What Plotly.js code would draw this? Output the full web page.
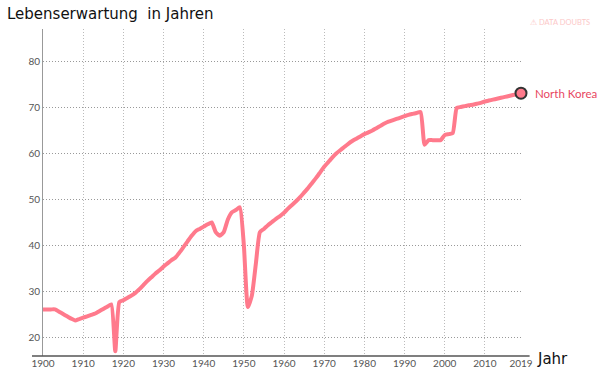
<!DOCTYPE html>
<html><head><meta charset="utf-8">
<script src="https://cdn.plot.ly/plotly-3.0.1.min.js"></script>
<style>body{margin:0;background:#fff}#c{width:600px;height:374px}</style>
</head><body><div id="c"></div>
<script>
const years = [];
for (let y = 1900; y <= 2019; y++) years.push(y);
const lifeExp = [
26.0,26.0,26.0,26.0,25.5,25.0,24.5,24.0,23.6,23.9,
24.2,24.5,24.8,25.1,25.6,26.1,26.6,27.1,16.9,27.6,
28.0,28.5,29.0,29.6,30.4,31.3,32.2,33.0,33.8,34.5,
35.3,36.0,36.7,37.3,38.4,39.6,40.8,42.0,43.0,43.5,
44.0,44.5,44.9,42.8,42.0,42.8,45.5,47.1,47.6,48.2,
40.0,26.5,29.0,36.0,42.8,43.5,44.3,45.0,45.7,46.3,
47.0,47.9,48.7,49.5,50.4,51.4,52.4,53.5,54.6,55.8,
57.0,58.0,59.0,59.9,60.6,61.3,62.0,62.6,63.1,63.6,
64.1,64.5,64.9,65.4,65.9,66.4,66.8,67.1,67.4,67.7,
68.0,68.3,68.5,68.7,68.9,61.8,62.8,62.8,62.8,62.8,
63.9,64.1,64.3,69.8,70.0,70.2,70.4,70.5,70.7,70.9,
71.2,71.4,71.6,71.8,72.0,72.2,72.4,72.6,72.8,73.0
];
const countryName = "North Korea";
const xTicks = [1900,1910,1920,1930,1940,1950,1960,1970,1980,1990,2000,2010,2019];
const yTicks = [20,30,40,50,60,70,80];

const lineColor = "#ff7a8c";
const traces = [
  {x: years, y: lifeExp, type: "scatter", mode: "lines",
   line: {color: lineColor, width: 4, shape: "spline", smoothing: 0.5}, hoverinfo: "skip"},
  {x: [years[years.length-1]], y: [lifeExp[lifeExp.length-1]], type: "scatter", mode: "markers",
   marker: {size: 11, color: lineColor, line: {color: "#333", width: 2}},
   cliponaxis: false, hoverinfo: "skip"}
];
const layout = {
  width: 600, height: 374,
  margin: {l: 43, r: 79, t: 29, b: 18},
  paper_bgcolor: "#fff", plot_bgcolor: "#fff",
  showlegend: false,
  font: {family: "Lato, sans-serif", size: 10, color: "#555"},
  xaxis: {range: [1900, 2019], tickvals: xTicks, ticktext: xTicks.map(String),
    showgrid: true, gridcolor: "#bbb", griddash: "1px,2px", gridwidth: 1,
    zeroline: false, showline: false, ticks: "", tickfont: {size: 10, color: "#555"}},
  yaxis: {range: [15.87, 86.96], tickvals: yTicks, ticktext: yTicks.map(String),
    showgrid: true, gridcolor: "#999", griddash: "1px,2px", gridwidth: 1,
    zeroline: false, showline: true, linecolor: "#999", linewidth: 1,
    ticks: "", tickfont: {size: 10, color: "#555"}},
  shapes: [
    {type: "line", xref: "paper", yref: "paper", x0: -0.023, x1: 1.018, y0: 0, y1: 0,
     line: {color: "#555", width: 1.5}}
  ],
  annotations: [
    {text: "Lebenserwartung  in Jahren", xref: "paper", yref: "paper", x: -0.08, y: 1.045,
     xanchor: "left", yanchor: "middle", showarrow: false,
     font: {family: "DejaVu Sans", size: 15, color: "#111"}},
    {text: countryName, xref: "paper", yref: "y", x: 1.025, y: lifeExp[lifeExp.length-1],
     xanchor: "left", yanchor: "middle", showarrow: false,
     font: {family: "Lato, sans-serif", size: 11.5, color: "#e8475f"}},
    {text: "Jahr", xref: "paper", yref: "paper", x: 1.03, y: -0.01,
     xanchor: "left", yanchor: "middle", showarrow: false,
     font: {family: "DejaVu Sans", size: 15, color: "#111"}},
    {text: "⚠ DATA DOUBTS", xref: "paper", yref: "paper", x: 1.015, y: 1.02,
     xanchor: "left", yanchor: "middle", showarrow: false,
     font: {family: "Lato, sans-serif", size: 7.5, color: "#fcc8c8"}}
  ]
};
Plotly.newPlot("c", traces, layout, {displayModeBar: false, staticPlot: true});
</script></body></html>
